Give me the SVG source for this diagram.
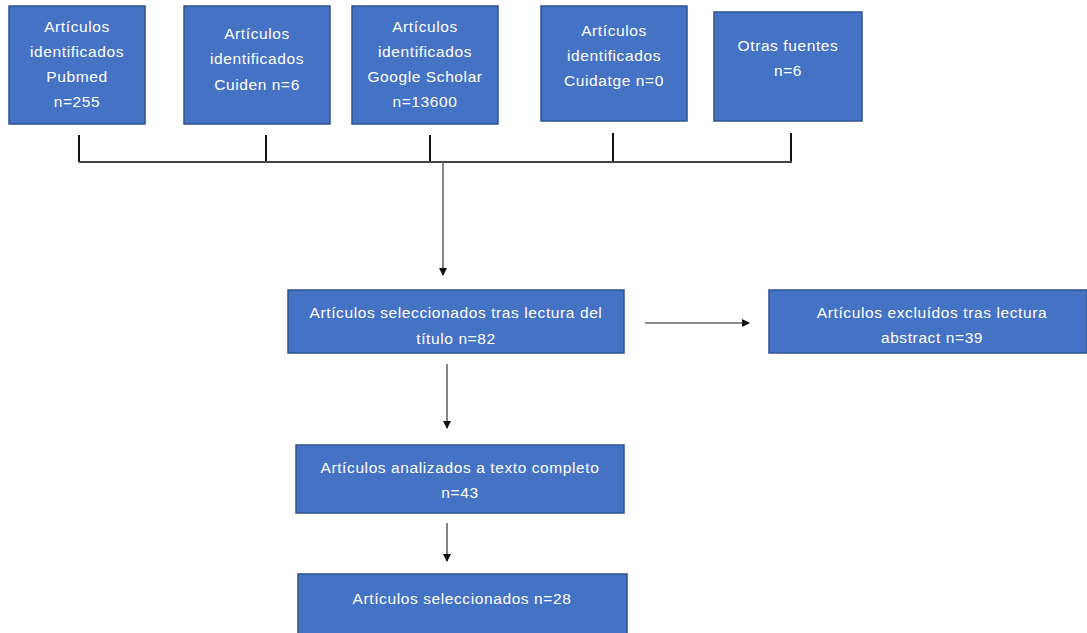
<svg xmlns="http://www.w3.org/2000/svg" width="1087" height="633" viewBox="0 0 1087 633">
<style>
.box{fill:#4472C4;stroke:#2F528F;stroke-width:1.5}
.t{font-family:"Liberation Sans",Arial,sans-serif;font-size:15.5px;letter-spacing:0.6px;fill:#fff;text-anchor:middle;dominant-baseline:central}
.tick{stroke:#111;stroke-width:2;fill:none}
.bus{stroke:#444;stroke-width:2;fill:none}
.arr{stroke:#666;stroke-width:1.6;fill:none;marker-end:url(#ah)}
</style>
<defs>
<marker id="ah" markerWidth="8" markerHeight="8" refX="7" refY="4" orient="auto" markerUnits="userSpaceOnUse">
<path d="M0,0 L8,4 L0,8 Z" fill="#111"/>
</marker>
</defs>
<rect width="1087" height="633" fill="#fff"/>
<g id="connectors">
<line class="tick" x1="79" y1="135" x2="79" y2="162"/>
<line class="tick" x1="266" y1="135" x2="266" y2="162"/>
<line class="tick" x1="430" y1="135" x2="430" y2="162"/>
<line class="tick" x1="613" y1="133" x2="613" y2="162"/>
<line class="tick" x1="791" y1="133" x2="791" y2="162"/>
<line class="bus" x1="79" y1="162" x2="792" y2="162"/>
<line class="arr" x1="443" y1="162" x2="443" y2="275"/>
<line class="arr" x1="645" y1="323" x2="749" y2="323"/>
<line class="arr" x1="447" y1="364" x2="447" y2="428"/>
<line class="arr" x1="447" y1="523" x2="447" y2="561"/>
</g>
<g id="n1">
<rect class="box" x="9" y="6" width="136" height="118"/>
<text class="t" x="77" y="26">Artículos</text>
<text class="t" x="77" y="51">identificados</text>
<text class="t" x="77" y="76">Pubmed</text>
<text class="t" x="77" y="101">n=255</text>
</g>
<g id="n2">
<rect class="box" x="184" y="6" width="146" height="118"/>
<text class="t" x="257" y="33">Artículos</text>
<text class="t" x="257" y="58">identificados</text>
<text class="t" x="257" y="84">Cuiden n=6</text>
</g>
<g id="n3">
<rect class="box" x="352" y="6" width="146" height="118"/>
<text class="t" x="425" y="26">Artículos</text>
<text class="t" x="425" y="51">identificados</text>
<text class="t" x="425" y="76">Google Scholar</text>
<text class="t" x="425" y="101">n=13600</text>
</g>
<g id="n4">
<rect class="box" x="541" y="6" width="146" height="115"/>
<text class="t" x="614" y="30">Artículos</text>
<text class="t" x="614" y="55">identificados</text>
<text class="t" x="614" y="80">Cuidatge n=0</text>
</g>
<g id="n5">
<rect class="box" x="714" y="12" width="148" height="109"/>
<text class="t" x="788" y="45">Otras fuentes</text>
<text class="t" x="788" y="70">n=6</text>
</g>
<g id="n6">
<rect class="box" x="288" y="290" width="336" height="63"/>
<text class="t" x="456" y="312">Artículos seleccionados tras lectura del</text>
<text class="t" x="456" y="338">título n=82</text>
</g>
<g id="n7">
<rect class="box" x="769" y="290" width="318" height="63"/>
<text class="t" x="932" y="312">Artículos excluídos tras lectura</text>
<text class="t" x="932" y="337">abstract n=39</text>
</g>
<g id="n8">
<rect class="box" x="296" y="445" width="328" height="68"/>
<text class="t" x="460" y="467">Artículos analizados a texto completo</text>
<text class="t" x="460" y="492">n=43</text>
</g>
<g id="n9">
<rect class="box" x="298" y="574" width="329" height="62"/>
<text class="t" x="462" y="598">Artículos seleccionados n=28</text>
</g>
</svg>
